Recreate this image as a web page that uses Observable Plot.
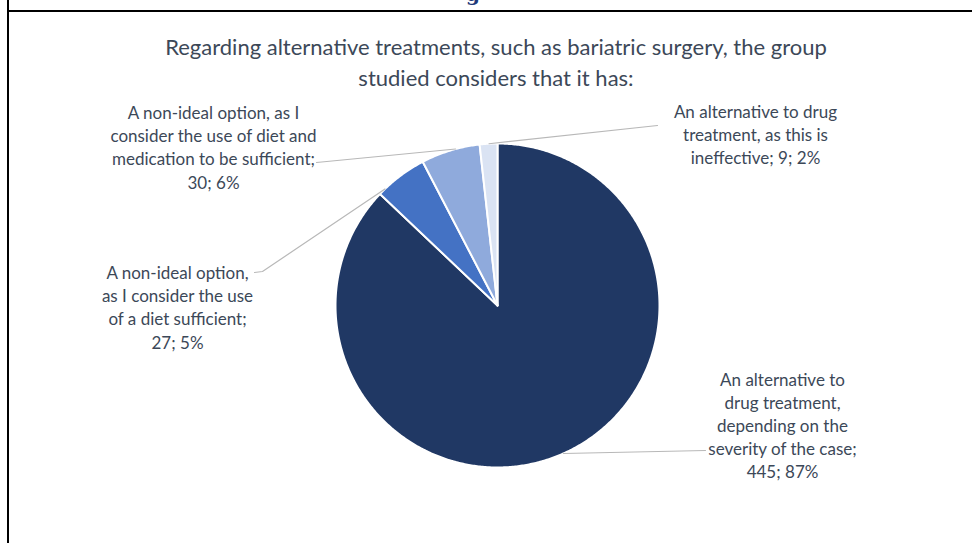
<!DOCTYPE html>
<html><head><meta charset="utf-8">
<script src="https://cdn.jsdelivr.net/npm/d3@7"></script>
<script src="https://cdn.jsdelivr.net/npm/@observablehq/plot@0.6"></script>
<style>
body{margin:0;background:#fff;}
#wrap{position:relative;width:972px;height:543px;overflow:hidden;background:#fff;}
#chart{position:absolute;left:0;top:0;}
.vline{position:absolute;left:7px;top:0;width:2px;height:543px;background:#000;}
.hline{position:absolute;left:7px;top:10px;width:965px;height:2px;background:#000;}
#cut{position:absolute;left:466px;top:-16px;font:bold 20px "DejaVu Serif",serif;line-height:20px;color:#1f3a7a;}
#title{position:absolute;left:10px;top:31px;width:972px;text-align:center;font:22px Lato,sans-serif;color:#3c4858;line-height:31px;}
</style></head>
<body>
<div id="wrap">
  <div id="chart"></div>
  <div id="cut">g</div>
  <div class="vline"></div><div class="hline"></div>
  <div id="title">Regarding alternative treatments, such as bariatric surgery, the group<br>studied considers that it has:</div>
</div>
<script>
// ---- data ----
const categories = [
  "An alternative to drug treatment, depending on the severity of the case",
  "A non-ideal option, as I consider the use of a diet sufficient",
  "A non-ideal option, as I consider the use of diet and medication to be sufficient",
  "An alternative to drug treatment, as this is ineffective"
];
const counts = [445, 27, 30, 9];
const percents = [87, 5, 6, 2];
const labelLines = [
  ["An alternative to", "drug treatment,", "depending on the", "severity of the case"],
  ["A non-ideal option,", "as I consider the use", "of a diet sufficient"],
  ["A non-ideal option, as I", "consider the use of diet and", "medication to be sufficient"],
  ["An alternative to drug", "treatment, as this is", "ineffective"]
];
const valueOnNewLine = [true, true, true, false];
const colors = ["#203864", "#4472c4", "#8faadc", "#dae3f3"];

// ---- layout ----
const cx = 497, cy = 305, R = 162;
const labelX = [782, 177, 213, 755];
const labelY = [424, 306, 146, 133];
const leaderAngleDeg = [156, 316, 345, 357];
const leaderPath = [[[705, 450]], [[262, 271], [254, 272]], [[316, 162]], [[657, 125]]];

const rows = categories.map((name, i) => ({name, count: counts[i], pct: percents[i], i}));
const arcs = d3.pie().sort(null).value(d => d.count)(rows);

const polyPts = arcs.flatMap(a => {
  const n = Math.max(2, Math.ceil((a.endAngle - a.startAngle) / (Math.PI / 360)));
  const pts = [{name: a.data.name, x: cx, y: cy}];
  for (let k = 0; k <= n; k++) {
    const t = a.startAngle + (a.endAngle - a.startAngle) * k / n;
    pts.push({name: a.data.name, x: cx + R * Math.sin(t), y: cy - R * Math.cos(t)});
  }
  return pts;
});

const labels = rows.map(r => ({
  name: r.name,
  x: labelX[r.i], y: labelY[r.i],
  text: labelLines[r.i].join("\n") + ";" + (valueOnNewLine[r.i] ? "\n" : " ") + r.count + "; " + r.pct + "%"
}));

const leaders = rows.flatMap(r => {
  const t = leaderAngleDeg[r.i] * Math.PI / 180;
  const start = {name: r.name, x: cx + R * Math.sin(t), y: cy - R * Math.cos(t)};
  return [start, ...leaderPath[r.i].map(([x, y]) => ({name: r.name, x, y}))];
});

const chart = Plot.plot({
  width: 972, height: 543,
  margin: 0,
  style: {background: "transparent", overflow: "visible"},
  x: {type: "identity", axis: null},
  y: {type: "identity", axis: null},
  color: {type: "ordinal", domain: categories, range: colors},
  marks: [
    Plot.line(polyPts, {x: "x", y: "y", z: "name", fill: "name", stroke: "#ffffff", strokeWidth: 2, strokeLinejoin: "round", curve: "linear-closed"}),
    Plot.line(leaders, {x: "x", y: "y", z: "name", stroke: "#b8b8b8", strokeWidth: 1.2}),
    Plot.text(labels, {x: "x", y: "y", text: "text", lineAnchor: "middle", textAnchor: "middle", fontSize: 17, lineHeight: 1.36, fill: "#3c4858", fontFamily: "Lato, sans-serif"})
  ]
});
document.getElementById("chart").appendChild(chart);
</script>
</body></html>
